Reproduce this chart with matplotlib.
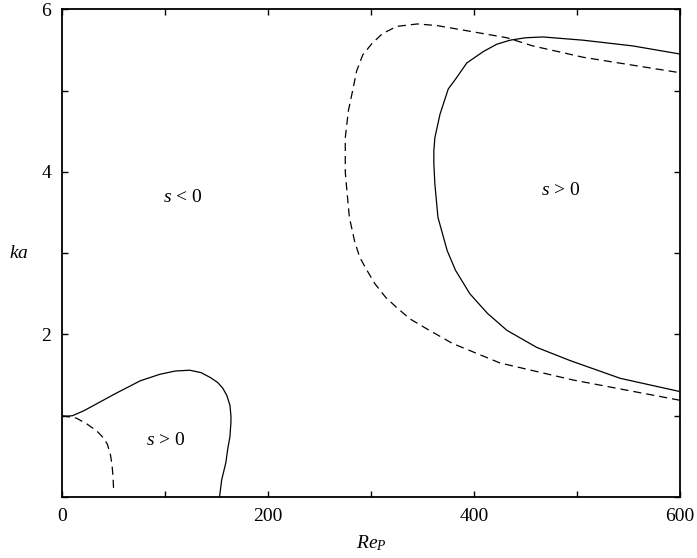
import numpy as np
import matplotlib
matplotlib.use('Agg')
import matplotlib.pyplot as plt

plt.rcParams['font.family'] = 'Liberation Serif'
plt.rcParams['mathtext.fontset'] = 'custom'
plt.rcParams['mathtext.rm'] = 'Liberation Serif'
plt.rcParams['mathtext.it'] = 'Liberation Serif:italic'

# Neutral curves (s = 0) in the (Re_P, ka) plane
# lower branch, solid
low_solid_re = [0, 10, 21, 37, 53, 76, 95, 110, 124, 135, 144, 151, 156, 160, 163, 164, 164, 163, 161, 159, 155, 153]
low_solid_ka = [0.99, 1.0, 1.06, 1.17, 1.28, 1.43, 1.51, 1.55, 1.56, 1.53, 1.47, 1.41, 1.34, 1.25, 1.13, 1.0, 0.92,
                0.74, 0.6, 0.42, 0.21, 0.01]

# lower branch, dashed
low_dash_re = [0, 5, 14, 24, 34, 40, 44, 47, 48.5, 49.5, 50]
low_dash_ka = [1.0, 0.99, 0.97, 0.9, 0.81, 0.73, 0.65, 0.52, 0.4, 0.25, 0.11]

# upper branch, solid
up_solid_re = [599, 542, 493, 461, 432, 413, 396, 382, 374, 365, 362, 361, 361, 362, 367, 375, 382, 393,
               409, 422, 435, 450, 467, 506, 554, 600]
up_solid_ka = [1.3, 1.46, 1.68, 1.84, 2.05, 2.26, 2.5, 2.79, 3.03, 3.44, 3.85, 4.1, 4.26, 4.42, 4.71, 5.02,
               5.14, 5.34, 5.48, 5.57, 5.62, 5.65, 5.66, 5.62, 5.55, 5.45]

# upper branch, dashed
up_dash_re = [600, 496, 425, 379, 354, 338, 325, 314, 304, 296, 289, 284, 279, 276, 275, 275, 275, 278,
              282, 286, 292, 301, 311, 325, 345, 364, 396, 432, 457, 506, 600]
up_dash_ka = [1.19, 1.44, 1.65, 1.89, 2.07, 2.19, 2.33, 2.46, 2.62, 2.79, 2.95, 3.15, 3.44, 3.85, 4.0,
              4.2, 4.42, 4.75, 4.99, 5.24, 5.44, 5.58, 5.7, 5.79, 5.82, 5.8, 5.73, 5.65, 5.55, 5.41, 5.22]

fig = plt.figure(figsize=(6.97, 5.58), dpi=100)
ax = fig.add_axes([0.089, 0.1093, 0.8866, 0.874])

ax.plot(low_solid_re, low_solid_ka, color='black', lw=0.9)
ax.plot(low_dash_re, low_dash_ka, color='black', lw=0.9, ls=(0, (6.5, 4)))
ax.plot(up_solid_re, up_solid_ka, color='black', lw=0.9)
ax.plot(up_dash_re, up_dash_ka, color='black', lw=0.9, ls=(0, (6.5, 4)))

ax.text(117, 3.68, r'$s$ < 0', fontsize=14, ha='center', va='center')
ax.text(484, 3.77, r'$s$ > 0', fontsize=14, ha='center', va='center')
ax.text(101, 0.69, r'$s$ > 0', fontsize=14, ha='center', va='center')

ax.set_xlim(0, 600)
ax.set_ylim(0, 6)
ax.set_xticks(np.arange(0, 601, 100))
ax.set_xticklabels(['0', '', '200', '', '400', '', '600'])
ax.set_yticks(np.arange(0, 7, 1))
ax.set_yticklabels(['', '', '2', '', '4', '', '6'])
ax.tick_params(direction='in', top=True, right=True, length=4, width=1, labelsize=14, pad=8)
for sp in ax.spines.values():
    sp.set_linewidth(1.3)

ax.set_xlabel(r'$Re_P$', fontsize=14, labelpad=6)
ax.set_ylabel(r'$ka$', fontsize=14, rotation=0, va='center', labelpad=16)

fig.savefig('out.png', dpi=100)
